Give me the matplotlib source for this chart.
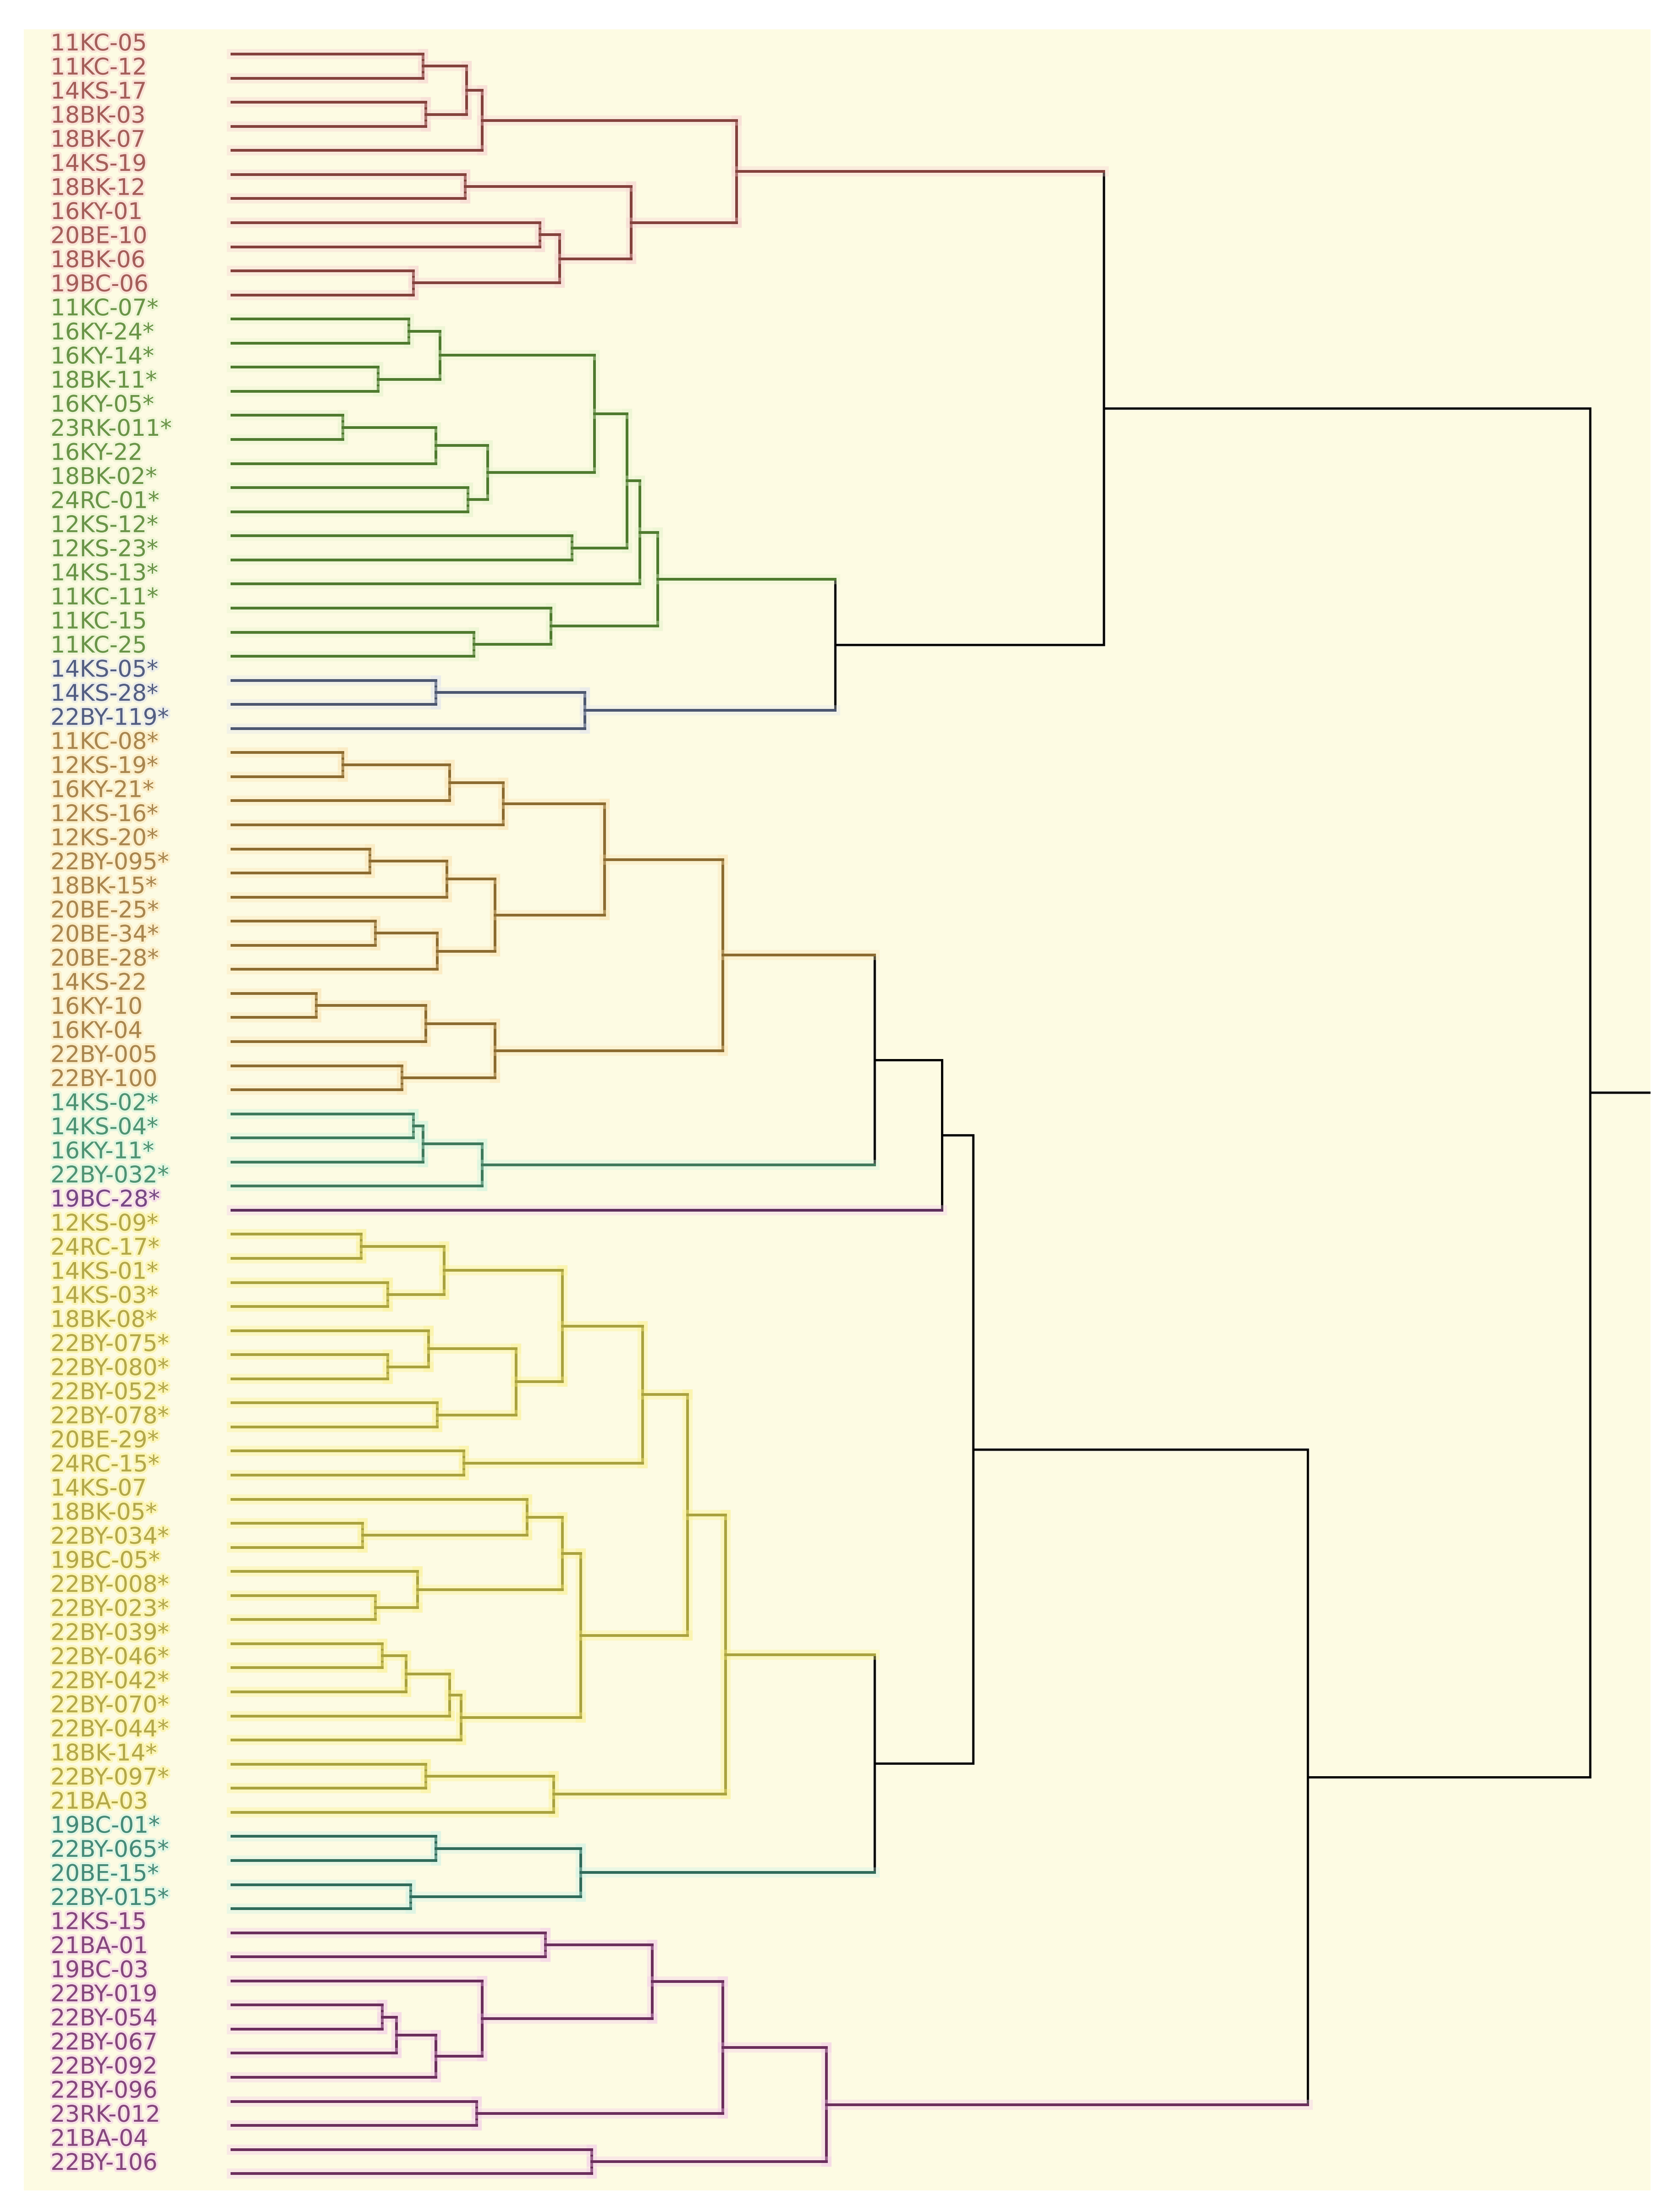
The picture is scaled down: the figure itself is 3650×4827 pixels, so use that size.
import matplotlib
matplotlib.use("Agg")
import matplotlib.pyplot as plt
import matplotlib.patheffects as pe

# ================= DATA =================
leaf_labels = [
    "11KC-05", "11KC-12", "14KS-17", "18BK-03", "18BK-07", "14KS-19", "18BK-12",
    "16KY-01", "20BE-10", "18BK-06", "19BC-06",
    "11KC-07*", "16KY-24*", "16KY-14*", "18BK-11*", "16KY-05*", "23RK-011*",
    "16KY-22", "18BK-02*", "24RC-01*", "12KS-12*", "12KS-23*", "14KS-13*",
    "11KC-11*", "11KC-15", "11KC-25",
    "14KS-05*", "14KS-28*", "22BY-119*",
    "11KC-08*", "12KS-19*", "16KY-21*", "12KS-16*", "12KS-20*", "22BY-095*",
    "18BK-15*", "20BE-25*", "20BE-34*", "20BE-28*", "14KS-22", "16KY-10",
    "16KY-04", "22BY-005", "22BY-100",
    "14KS-02*", "14KS-04*", "16KY-11*", "22BY-032*",
    "19BC-28*",
    "12KS-09*", "24RC-17*", "14KS-01*", "14KS-03*", "18BK-08*", "22BY-075*",
    "22BY-080*", "22BY-052*", "22BY-078*", "20BE-29*", "24RC-15*", "14KS-07",
    "18BK-05*", "22BY-034*", "19BC-05*", "22BY-008*", "22BY-023*", "22BY-039*",
    "22BY-046*", "22BY-042*", "22BY-070*", "22BY-044*", "18BK-14*", "22BY-097*",
    "21BA-03",
    "19BC-01*", "22BY-065*", "20BE-15*", "22BY-015*",
    "12KS-15", "21BA-01", "19BC-03", "22BY-019", "22BY-054", "22BY-067",
    "22BY-092", "22BY-096", "23RK-012", "21BA-04", "22BY-106",
]

cluster_names = ["red", "green", "blue", "orange", "tealgreen", "violet",
                 "yellow", "teal", "purple"]
cluster_sizes = [11, 15, 3, 15, 4, 1, 25, 4, 11]

# (node, child a, child b, merge distance)
merges = [
    ("r1", "11KC-05", "11KC-12", 136),
    ("r2", "14KS-17", "18BK-03", 138),
    ("r3", "r1", "r2", 167),
    ("r4", "r3", "18BK-07", 178),
    ("r5", "14KS-19", "18BK-12", 166),
    ("r6", "16KY-01", "20BE-10", 219),
    ("r7", "18BK-06", "19BC-06", 129),
    ("r8", "r6", "r7", 233),
    ("r9", "r5", "r8", 284),
    ("r10", "r4", "r9", 359),
    ("g1", "11KC-07*", "16KY-24*", 126),
    ("g2", "16KY-14*", "18BK-11*", 104),
    ("g3", "g1", "g2", 148),
    ("g4", "16KY-05*", "23RK-011*", 79),
    ("g5", "g4", "16KY-22", 145),
    ("g6", "18BK-02*", "24RC-01*", 168),
    ("g7", "g5", "g6", 182),
    ("g8", "g3", "g7", 258),
    ("g9", "12KS-12*", "12KS-23*", 242),
    ("g10", "g8", "g9", 281),
    ("g11", "g10", "14KS-13*", 290),
    ("g12", "11KC-15", "11KC-25", 172),
    ("g13", "11KC-11*", "g12", 227),
    ("g14", "g11", "g13", 303),
    ("b1", "14KS-05*", "14KS-28*", 145),
    ("b2", "b1", "22BY-119*", 251),
    ("gb", "g14", "b2", 429),
    ("top", "r10", "gb", 620),
    ("o1", "11KC-08*", "12KS-19*", 79),
    ("o2", "o1", "16KY-21*", 155),
    ("o3", "o2", "12KS-16*", 193),
    ("o4", "12KS-20*", "22BY-095*", 98),
    ("o5", "o4", "18BK-15*", 153),
    ("o6", "20BE-25*", "20BE-34*", 102),
    ("o7", "o6", "20BE-28*", 146),
    ("o8", "o5", "o7", 187),
    ("o9", "o3", "o8", 265),
    ("o10", "14KS-22", "16KY-10", 60),
    ("o11", "o10", "16KY-04", 138),
    ("o12", "22BY-005", "22BY-100", 121),
    ("o13", "o11", "o12", 187),
    ("o14", "o9", "o13", 349),
    ("t1", "14KS-02*", "14KS-04*", 129),
    ("t2", "t1", "16KY-11*", 136),
    ("t3", "t2", "22BY-032*", 178),
    ("ot", "o14", "t3", 457),
    ("ots", "ot", "19BC-28*", 505),
    ("y1", "12KS-09*", "24RC-17*", 92),
    ("y2", "14KS-01*", "14KS-03*", 111),
    ("y3", "y1", "y2", 151),
    ("y4", "22BY-075*", "22BY-080*", 111),
    ("y5", "18BK-08*", "y4", 140),
    ("y6", "22BY-052*", "22BY-078*", 146),
    ("y7", "y5", "y6", 202),
    ("y8", "y3", "y7", 235),
    ("y9", "20BE-29*", "24RC-15*", 165),
    ("y10", "y8", "y9", 292),
    ("y11", "18BK-05*", "22BY-034*", 93),
    ("y12", "14KS-07", "y11", 210),
    ("y13", "22BY-008*", "22BY-023*", 102),
    ("y14", "19BC-05*", "y13", 132),
    ("y15", "y12", "y14", 235),
    ("y16", "22BY-039*", "22BY-046*", 107),
    ("y17", "y16", "22BY-042*", 124),
    ("y18", "y17", "22BY-070*", 155),
    ("y19", "y18", "22BY-044*", 163),
    ("y20", "y15", "y19", 248),
    ("y21", "y10", "y20", 324),
    ("y22", "18BK-14*", "22BY-097*", 138),
    ("y23", "y22", "21BA-03", 229),
    ("y24", "y21", "y23", 351),
    ("c1", "19BC-01*", "22BY-065*", 145),
    ("c2", "20BE-15*", "22BY-015*", 127),
    ("c3", "c1", "c2", 248),
    ("yc", "y24", "c3", 457),
    ("mid", "ots", "yc", 527),
    ("p1", "12KS-15", "21BA-01", 223),
    ("p2", "22BY-019", "22BY-054", 107),
    ("p3", "p2", "22BY-067", 117),
    ("p4", "p3", "22BY-092", 145),
    ("p5", "19BC-03", "p4", 178),
    ("p6", "p1", "p5", 299),
    ("p7", "22BY-096", "23RK-012", 174),
    ("p8", "p6", "p7", 349),
    ("p9", "21BA-04", "22BY-106", 256),
    ("p10", "p8", "p9", 423),
    ("bottom", "mid", "p10", 765),
    ("root", "top", "bottom", 966),
]

# ================= STYLE =================
line_colors = {
    "red": "#84413c", "green": "#4e7a2e", "blue": "#4b5670",
    "orange": "#8c6b30", "tealgreen": "#3e7a5c", "violet": "#5e2e5c",
    "yellow": "#a9a23e", "teal": "#2f6b5a", "purple": "#6b2e5c",
}
label_colors = {
    "red": "#a45e59", "green": "#6a9448", "blue": "#535e82",
    "orange": "#a9864f", "tealgreen": "#4f9373", "violet": "#774884",
    "yellow": "#b3a84a", "teal": "#468a78", "purple": "#85477c",
}
glow_colors = {
    "red": "#f7cfcf", "green": "#e4f3cc", "blue": "#dfe3f0",
    "orange": "#fbe3b0", "tealgreen": "#c9f3de", "violet": "#f2c8ee",
    "yellow": "#fbf08a", "teal": "#c9f2e6", "purple": "#f3c6ea",
}
bg = "#fdfbe3"

W, H = 3650, 4827
fig = plt.figure(figsize=(W / 100, H / 100), dpi=100, facecolor="white")
ax = fig.add_axes([52 / W, 1 - 4780 / H, (3601 - 52) / W, (4780 - 64) / H])
ax.set_xlim(-148, 1009)
ax.set_ylim(88.7, -1.03)
ax.axis("off")
ax.add_patch(plt.Rectangle((0, 0), 1, 1, transform=ax.transAxes,
                           facecolor=bg, edgecolor="none", zorder=0))

# leaf cluster membership
leaf_cluster = []
for name, n in zip(cluster_names, cluster_sizes):
    leaf_cluster += [name] * n

ypos, xpos, cl = {}, {}, {}
for i, lab in enumerate(leaf_labels):
    ypos[lab] = i
    xpos[lab] = 0
    cl[lab] = {leaf_cluster[i]}

for node, a, b, h in merges:
    ypos[node] = (ypos[a] + ypos[b]) / 2
    xpos[node] = h
    cl[node] = cl[a] | cl[b]


def col(key):
    s = cl[key]
    if len(s) == 1:
        return next(iter(s))
    return None


def seg(xs, ys, key):
    c = col(key)
    if c is None:
        ax.plot(xs, ys, color="black", lw=3.6, solid_capstyle="projecting", zorder=3)
    else:
        ax.plot(xs, ys, color=line_colors[c], lw=4.3, solid_capstyle="projecting",
                zorder=3,
                path_effects=[pe.Stroke(linewidth=16, foreground=glow_colors[c], alpha=0.35),
                              pe.Normal()])


for node, a, b, h in merges:
    seg([h, h], [ypos[a], ypos[b]], node)
    for child in (a, b):
        seg([xpos[child], h], [ypos[child], ypos[child]], child)

# stub from the root to the right edge
ax.plot([xpos["root"], ax.get_xlim()[1]], [ypos["root"], ypos["root"]],
        color="black", lw=3.6, zorder=3)

# leaf labels
for i, lab in enumerate(leaf_labels):
    c = leaf_cluster[i]
    ax.text(-129, i - 0.42, lab, ha="left", va="center", fontsize=36,
            family="DejaVu Sans", color=label_colors[c], zorder=4,
            path_effects=[pe.withStroke(linewidth=7, foreground=glow_colors[c], alpha=0.5)])

fig.savefig("out.png", dpi=100, facecolor="white")
